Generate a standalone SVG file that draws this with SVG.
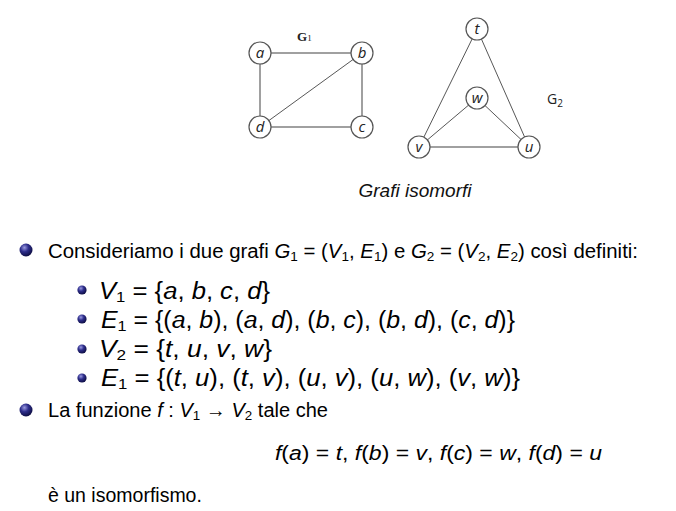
<svg xmlns="http://www.w3.org/2000/svg" width="676" height="511" viewBox="0 0 676 511">
<defs>
<radialGradient id="ball" cx="0.38" cy="0.32" r="0.7">
<stop offset="0" stop-color="#9a9ae0"/>
<stop offset="0.45" stop-color="#2e2e8c"/>
<stop offset="1" stop-color="#0c0c40"/>
</radialGradient>
</defs>
<style>
.node circle{fill:#fff;stroke:#555;stroke-width:1.2}
.node text{font-family:"Open Sans","Liberation Sans",sans-serif;font-style:italic;font-size:15px;fill:#222;text-anchor:middle}
.thick{stroke:#a0a0a0;stroke-width:2;fill:none}
.thin{stroke:#444;stroke-width:0.9;fill:none}
.t{font-family:"Liberation Sans",Arial,sans-serif;font-size:19.5px;fill:#000}
.m{font-family:"Liberation Sans",Arial,sans-serif;font-size:23px;fill:#000}
.i{font-style:italic}
.sb{font-size:13px}
.m .sb{font-size:15px}
</style>
<rect width="676" height="511" fill="#fff"/>

<g id="connectors">
<line class="thick" x1="260" y1="53" x2="362" y2="53"/>
<line class="thick" x1="260" y1="53" x2="260" y2="127"/>
<line class="thick" x1="362" y1="53" x2="362" y2="127"/>
<line class="thick" x1="260" y1="127" x2="362" y2="127"/>
<line class="thin" x1="362" y1="53" x2="260" y2="127"/>
<line class="thin" x1="477" y1="29" x2="419" y2="147"/>
<line class="thin" x1="477" y1="29" x2="529" y2="147"/>
<line class="thin" x1="477" y1="98" x2="419" y2="147"/>
<line class="thin" x1="477" y1="98" x2="529" y2="147"/>
<line class="thick" x1="419" y1="147" x2="529" y2="147"/>
</g>

<g id="node-a" class="node"><circle cx="260" cy="53" r="11"/><text x="260" y="58">a</text></g>
<g id="node-b" class="node"><circle cx="362" cy="53" r="11"/><text x="362" y="58">b</text></g>
<g id="node-c" class="node"><circle cx="362" cy="127" r="11"/><text x="362" y="132">c</text></g>
<g id="node-d" class="node"><circle cx="260" cy="127" r="11"/><text x="260" y="132">d</text></g>
<g id="node-t" class="node"><circle cx="477" cy="29" r="11"/><text x="477" y="34">t</text></g>
<g id="node-w" class="node"><circle cx="477" cy="98" r="11"/><text x="477" y="103">w</text></g>
<g id="node-v" class="node"><circle cx="419" cy="147" r="11"/><text x="419" y="152">v</text></g>
<g id="node-u" class="node"><circle cx="529" cy="147" r="11"/><text x="529" y="152">u</text></g>

<g id="label-G1"><text x="297" y="41" font-family="Liberation Serif,serif" font-weight="bold" font-size="13" fill="#222">G<tspan font-size="9" font-weight="normal">1</tspan></text></g>
<g id="label-G2"><text x="547" y="104" font-family="Open Sans,Liberation Sans,sans-serif" font-size="14" fill="#222">G<tspan font-size="10" dy="3">2</tspan></text></g>

<g id="caption"><text x="415" y="197" text-anchor="middle" font-family="Liberation Sans,Arial,sans-serif" font-style="italic" font-size="19" fill="#111">Grafi isomorfi</text></g>

<g id="bullets">
<circle cx="26" cy="250" r="6.5" fill="url(#ball)"/>
<circle cx="26" cy="410" r="6.5" fill="url(#ball)"/>
<circle cx="82" cy="290" r="4.6" fill="url(#ball)"/>
<circle cx="82" cy="319" r="4.6" fill="url(#ball)"/>
<circle cx="82" cy="349" r="4.6" fill="url(#ball)"/>
<circle cx="82" cy="378" r="4.6" fill="url(#ball)"/>
</g>

<g id="text">
<text class="t" x="48" y="258" textLength="590" lengthAdjust="spacingAndGlyphs">Consideriamo i due grafi <tspan class="i">G</tspan><tspan class="sb" dy="3">1</tspan><tspan dy="-3"> = (</tspan><tspan class="i">V</tspan><tspan class="sb" dy="3">1</tspan><tspan dy="-3">, </tspan><tspan class="i">E</tspan><tspan class="sb" dy="3">1</tspan><tspan dy="-3">) e </tspan><tspan class="i">G</tspan><tspan class="sb" dy="3">2</tspan><tspan dy="-3"> = (</tspan><tspan class="i">V</tspan><tspan class="sb" dy="3">2</tspan><tspan dy="-3">, </tspan><tspan class="i">E</tspan><tspan class="sb" dy="3">2</tspan><tspan dy="-3">) così definiti:</tspan></text>

<text class="m" x="99" y="299" textLength="171" lengthAdjust="spacingAndGlyphs"><tspan class="i">V</tspan><tspan class="sb" dy="3">1</tspan><tspan dy="-3"> = {</tspan><tspan class="i">a</tspan>, <tspan class="i">b</tspan>, <tspan class="i">c</tspan>, <tspan class="i">d</tspan>}</text>
<text class="m" x="101" y="328" textLength="414" lengthAdjust="spacingAndGlyphs"><tspan class="i">E</tspan><tspan class="sb" dy="3">1</tspan><tspan dy="-3"> = {(</tspan><tspan class="i">a</tspan>, <tspan class="i">b</tspan>), (<tspan class="i">a</tspan>, <tspan class="i">d</tspan>), (<tspan class="i">b</tspan>, <tspan class="i">c</tspan>), (<tspan class="i">b</tspan>, <tspan class="i">d</tspan>), (<tspan class="i">c</tspan>, <tspan class="i">d</tspan>)}</text>
<text class="m" x="99" y="357" textLength="173" lengthAdjust="spacingAndGlyphs"><tspan class="i">V</tspan><tspan class="sb" dy="3">2</tspan><tspan dy="-3"> = {</tspan><tspan class="i">t</tspan>, <tspan class="i">u</tspan>, <tspan class="i">v</tspan>, <tspan class="i">w</tspan>}</text>
<text class="m" x="101" y="386" textLength="419" lengthAdjust="spacingAndGlyphs"><tspan class="i">E</tspan><tspan class="sb" dy="3">1</tspan><tspan dy="-3"> = {(</tspan><tspan class="i">t</tspan>, <tspan class="i">u</tspan>), (<tspan class="i">t</tspan>, <tspan class="i">v</tspan>), (<tspan class="i">u</tspan>, <tspan class="i">v</tspan>), (<tspan class="i">u</tspan>, <tspan class="i">w</tspan>), (<tspan class="i">v</tspan>, <tspan class="i">w</tspan>)}</text>

<text class="t" x="48" y="417" textLength="280" lengthAdjust="spacingAndGlyphs">La funzione <tspan class="i">f</tspan> : <tspan class="i">V</tspan><tspan class="sb" dy="3">1</tspan><tspan dy="-3"> → </tspan><tspan class="i">V</tspan><tspan class="sb" dy="3">2</tspan><tspan dy="-3"> tale che</tspan></text>

<text class="t" x="275" y="460" font-size="20.5" textLength="327" lengthAdjust="spacingAndGlyphs"><tspan class="i">f</tspan>(<tspan class="i">a</tspan>) = <tspan class="i">t</tspan>, <tspan class="i">f</tspan>(<tspan class="i">b</tspan>) = <tspan class="i">v</tspan>, <tspan class="i">f</tspan>(<tspan class="i">c</tspan>) = <tspan class="i">w</tspan>, <tspan class="i">f</tspan>(<tspan class="i">d</tspan>) = <tspan class="i">u</tspan></text>

<text class="t" x="48" y="502">è un isomorfismo.</text>
</g>
</svg>
